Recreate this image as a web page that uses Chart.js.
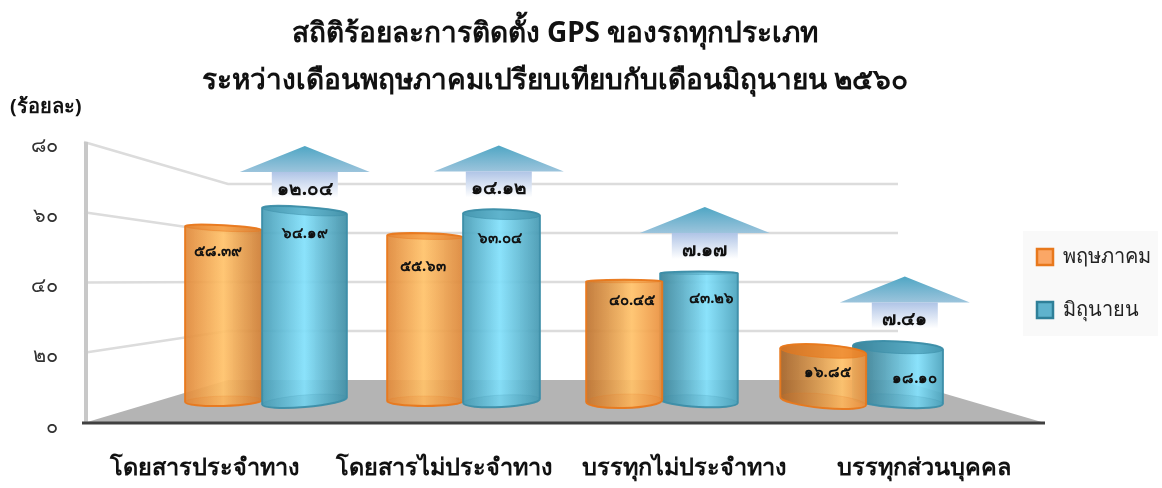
<!DOCTYPE html>
<html>
<head>
<meta charset="utf-8">
<style>
  html, body { margin: 0; padding: 0; background: #fff; }
  #wrap { width: 1162px; height: 488px; }
</style>
<script src="https://cdn.jsdelivr.net/npm/chart.js@4/dist/chart.umd.min.js"></script>
</head>
<body>
<div id="wrap"><canvas id="grafico" width="1162" height="488"></canvas></div>
<script>
const categorias = ['โดยสารประจำทาง', 'โดยสารไม่ประจำทาง', 'บรรทุกไม่ประจำทาง', 'บรรทุกส่วนบุคคล'];
const maio = [58.39, 55.63, 40.45, 16.85];
const junho = [64.19, 63.04, 43.26, 18.10];
const variacao = [12.04, 14.12, 7.17, 7.41];
const ticksY = [0, 20, 40, 60, 80];

const titulo = ['สถิติร้อยละการติดตั้ง GPS ของรถทุกประเภท', 'ระหว่างเดือนพฤษภาคมเปรียบเทียบกับเดือนมิถุนายน ๒๕๖๐'];
const unidade = '(ร้อยละ)';
const FONTE = '"Noto Sans", "Open Sans", "DejaVu Sans", sans-serif';

// perspective of each cylinder: [top radius, top tilt, bottom radius, bottom tilt, width factor, x shift]
const formaMaio = [[3, 2, 5, -1, 0.99, -2.7], [3, 1, 5, 0, 0.98, 0], [1.5, 0, 7, -1, 0.98, 0], [6.5, 3, 7, 4, 1.11, 0]];
const formaJunho = [[4, 3, 6, -3.5, 1.095, 0.7], [5, 1, 6, -2, 0.99, -1.3], [1.5, 0, 6, 2, 1, -2.8], [6, 2, 6.5, 3, 1.16, -2.8]];
// light falls differently on each group: highlight position, dark left, dark right
const luzGrupo = [0.5, 0.48, 0.6, 0.72];
const escuroEsq = [0.04, 0.04, 0.18, 0.3];
const escuroDir = [0.12, 0.06, 0, 0];
// small shifts of the value labels
const ajusteMaio = [[-8, 24], [-2, 30], [8, 19], [4, 22]];
const ajusteJunho = [[1, 23], [-3, 24], [10, 26], [14, 31]];
// arrow: x shift, rise above the bar
const ajusteSeta = [[1, 65], [-4, 69], [3, 66], [4, 71]];

function tailandes(v) {
  return String(v).replace(/[0-9]/g, d => '๐๑๒๓๔๕๖๗๘๙'[d]);
}

function pontos(lista) {
  return lista.map((v, i) => ({ x: i, y: v }));
}

function cilindro(ctx, el, forma, cores, i) {
  const [rt, tt, rb, tb, fator, dx] = forma;
  const a = el.width * fator / 2;
  const cx = el.x + dx;
  const rotT = Math.atan2(tt, a);
  const rotB = Math.atan2(tb, a);

  const corpo = () => {
    ctx.beginPath();
    ctx.ellipse(cx, el.base, a, rb, rotB, 0, Math.PI);
    ctx.ellipse(cx, el.y, a, rt, rotT, Math.PI, Math.PI * 2);
    ctx.closePath();
  };

  const grad = ctx.createLinearGradient(cx - a, 0, cx + a, 0);
  grad.addColorStop(0, cores.borda);
  grad.addColorStop(luzGrupo[i], cores.meio);
  grad.addColorStop(1, cores.borda);
  const sombra = ctx.createLinearGradient(cx - a, 0, cx + a, 0);
  sombra.addColorStop(0, `rgba(0,0,0,${escuroEsq[i]})`);
  sombra.addColorStop(luzGrupo[i], 'rgba(0,0,0,0)');
  sombra.addColorStop(1, `rgba(0,0,0,${escuroDir[i]})`);

  ctx.save();
  ctx.globalAlpha = 0.93;
  corpo();
  ctx.fillStyle = grad;
  ctx.fill();
  ctx.fillStyle = sombra;
  ctx.fill();
  ctx.lineWidth = 2;
  ctx.strokeStyle = cores.linha;
  ctx.stroke();

  // top cap and base
  ctx.globalAlpha = 0.2 + rt * 0.07;
  ctx.lineWidth = 1;
  ctx.beginPath();
  ctx.ellipse(cx, el.y, a, rt, rotT, 0, Math.PI * 2);
  ctx.fillStyle = cores.linha;
  ctx.fill();
  ctx.stroke();
  ctx.globalAlpha = 0.16;
  ctx.beginPath();
  ctx.ellipse(cx, el.base, a, rb, rotB, 0, Math.PI * 2);
  ctx.fill();
  ctx.stroke();
  ctx.restore();
}

function seta(ctx, x, topo, valor) {
  const meia = 65, corpo = 33, cabeca = 26, altura = 52;
  const g1 = ctx.createLinearGradient(0, topo, 0, topo + cabeca);
  g1.addColorStop(0, '#4fa6c4');
  g1.addColorStop(1, '#9cc4dc');
  ctx.beginPath();
  ctx.moveTo(x, topo);
  ctx.lineTo(x + meia, topo + cabeca);
  ctx.lineTo(x - meia, topo + cabeca);
  ctx.closePath();
  ctx.fillStyle = g1;
  ctx.fill();

  const g2 = ctx.createLinearGradient(0, topo + cabeca, 0, topo + altura);
  g2.addColorStop(0, '#afc4e6');
  g2.addColorStop(1, '#ffffff');
  ctx.fillStyle = g2;
  ctx.fillRect(x - corpo, topo + cabeca, corpo * 2, altura - cabeca);

  ctx.fillStyle = '#111';
  ctx.font = 'bold 19px ' + FONTE;
  ctx.textAlign = 'center';
  ctx.textBaseline = 'middle';
  ctx.fillText(tailandes(valor.toFixed(2)), x, topo + 43.5);
}

const pluginParede = {
  id: 'parede',
  // the title is centred a bit right of the plot area, the legend a bit higher
  afterLayout(chart) {
    const t = chart.titleBlock;
    const d = 555 - (t.left + t.right) / 2;
    t.left += d;
    t.right += d;
    chart.legend.top -= 3;
    chart.legend.bottom -= 3;
  },
  beforeDatasetsDraw(chart) {
    const { ctx, chartArea, scales } = chart;
    const fundoEsq = 228, fundoDir = 898, frenteDir = 1045;
    const frente = v => scales.y.getPixelForValue(v) - 4;
    const fundo = v => scales.yFundo.getPixelForValue(v);

    ctx.save();
    // gridlines on the left and back walls
    ctx.strokeStyle = '#dcdcdc';
    ctx.lineWidth = 2.5;
    ticksY.slice(1).forEach(v => {
      ctx.beginPath();
      ctx.moveTo(chartArea.left, frente(v));
      ctx.lineTo(fundoEsq, fundo(v));
      ctx.lineTo(fundoDir, fundo(v));
      ctx.stroke();
    });

    // floor
    ctx.fillStyle = '#b4b4b4';
    ctx.beginPath();
    ctx.moveTo(chartArea.left, frente(0));
    ctx.lineTo(fundoEsq, fundo(0));
    ctx.lineTo(fundoDir, fundo(0));
    ctx.lineTo(frenteDir, frente(0));
    ctx.closePath();
    ctx.fill();

    // left wall edge and front edge
    ctx.fillStyle = '#c8c8c8';
    ctx.fillRect(chartArea.left, frente(80), 4, frente(0) - frente(80));
    ctx.strokeStyle = '#404040';
    ctx.lineWidth = 3;
    ctx.beginPath();
    ctx.moveTo(chartArea.left - 2, frente(0));
    ctx.lineTo(frenteDir, frente(0));
    ctx.stroke();
    ctx.restore();

    // cylinders, the ones farther from the middle first
    const meioX = 565;
    const metaM = chart.getDatasetMeta(0).data;
    const metaJ = chart.getDatasetMeta(1).data;
    const corM = { borda: '#e98f3e', meio: '#ffc26a', linha: '#e8781c' };
    const corJ = { borda: '#4ba3bd', meio: '#82e0fb', linha: '#3c8ea8' };
    const itens = [];
    categorias.forEach((c, i) => {
      itens.push({ i, el: metaM[i], forma: formaMaio[i], cor: corM, valor: maio[i], aj: ajusteMaio[i] });
      itens.push({ i, el: metaJ[i], forma: formaJunho[i], cor: corJ, valor: junho[i], aj: ajusteJunho[i] });
    });
    itens.sort((a, b) => Math.abs(b.el.x - meioX) - Math.abs(a.el.x - meioX));
    itens.forEach(it => cilindro(ctx, it.el, it.forma, it.cor, it.i));

    ctx.save();
    metaJ.forEach((el, i) => seta(ctx, el.x + ajusteSeta[i][0], el.y - ajusteSeta[i][1], variacao[i]));
    ctx.fillStyle = '#111';
    ctx.font = 'bold 15px ' + FONTE;
    ctx.textAlign = 'center';
    ctx.textBaseline = 'middle';
    itens.forEach(it => {
      ctx.fillText(tailandes(it.valor.toFixed(2)), it.el.x + it.aj[0], it.el.y + it.aj[1]);
    });
    ctx.restore();
  },
  // cylinders are drawn above, so skip the flat bars
  beforeDatasetDraw() {
    return false;
  },
  beforeDraw(chart) {
    const { ctx, legend } = chart;
    const caixa = legend.legendHitBoxes[0];
    ctx.save();
    ctx.fillStyle = '#f9f9f9';
    ctx.fillRect(caixa.left - 14, caixa.top - 16, 135, 105);
    ctx.restore();
  }
};

new Chart(document.getElementById('grafico'), {
  type: 'bar',
  data: {
    datasets: [
      { label: 'พฤษภาคม', data: pontos(maio), xAxisID: 'xBarras', yAxisID: 'yBarras',
        backgroundColor: '#fba766', borderColor: '#e8781c', borderWidth: 2.5,
        categoryPercentage: 0.78, barPercentage: 1 },
      { label: 'มิถุนายน', data: pontos(junho), xAxisID: 'xBarras', yAxisID: 'yBarras',
        backgroundColor: '#5fb3cd', borderColor: '#2f8099', borderWidth: 2.5,
        categoryPercentage: 0.78, barPercentage: 1 }
    ]
  },
  options: {
    responsive: false,
    animation: false,
    events: [],
    layout: { padding: { top: 11, bottom: 2, left: 10, right: 1 } },
    plugins: {
      title: {
        display: true,
        fullSize: false,
        text: titulo,
        color: '#111',
        font: { family: FONTE, size: 28, weight: 'bold', lineHeight: 1.66 },
        padding: { top: 0, bottom: -9 }
      },
      subtitle: {
        display: true,
        text: unidade,
        align: 'start',
        color: '#111',
        font: { family: FONTE, size: 20, weight: 'bold' },
        padding: { top: 0, bottom: 27 }
      },
      legend: {
        position: 'right',
        fullSize: false,
        labels: {
          color: '#222',
          font: { family: FONTE, size: 20 },
          boxWidth: 16,
          boxHeight: 16,
          padding: 33
        }
      },
      tooltip: { enabled: false }
    },
    scales: {
      x: {
        type: 'linear',
        position: 'bottom',
        offset: false,
        min: -0.5,
        max: 3.333,
        grid: { display: false },
        border: { display: false },
        afterBuildTicks: s => { s.ticks = categorias.map((c, i) => ({ value: i })); },
        afterFit: s => { s.height = 59; },
        ticks: {
          callback: v => categorias[v],
          autoSkip: false,
          maxRotation: 0,
          color: '#111',
          padding: 19,
          font: { family: FONTE, size: 23.5, weight: 'bold' }
        }
      },
      xBarras: {
        type: 'linear',
        display: false,
        offset: false,
        min: -0.9095,
        max: 3.7136,
        afterBuildTicks: s => { s.ticks = categorias.map((c, i) => ({ value: i })); }
      },
      y: {
        min: 0,
        max: 80,
        grid: { display: false },
        border: { display: false },
        afterBuildTicks: s => { s.ticks = ticksY.map(v => ({ value: v })); },
        afterFit: s => { s.width = 74; },
        ticks: {
          callback: v => tailandes(v),
          color: '#333',
          padding: 18,
          font: { family: FONTE, size: 20 }
        }
      },
      yBarras: { display: false, min: -8.78, max: 86.15 },
      yFundo: { display: false, min: -19.18, max: 95.51 }
    }
  },
  plugins: [pluginParede]
});
</script>
</body>
</html>
